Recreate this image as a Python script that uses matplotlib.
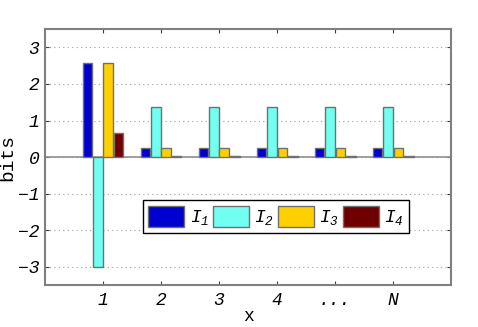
import numpy as np
import matplotlib
matplotlib.use("Agg")
from matplotlib import pyplot as plt

# values
groups = ["1", "2", "3", "4", "...", "N"]
I1 = [2.58, 0.26, 0.26, 0.26, 0.26, 0.26]
I2 = [-3.0, 1.38, 1.38, 1.38, 1.38, 1.38]
I3 = [2.58, 0.26, 0.26, 0.26, 0.26, 0.26]
I4 = [0.65, 0.04, 0.04, 0.04, 0.04, 0.04]
labels = [r"$I_1$", r"$I_2$", r"$I_3$", r"$I_4$"]
colors = ["#0000d0", "#70fff0", "#ffd000", "#700000"]

plt.rcParams["font.family"] = "Liberation Mono"
plt.rcParams["mathtext.fontset"] = "custom"
plt.rcParams["mathtext.it"] = "Liberation Mono:italic"
plt.rcParams["mathtext.rm"] = "Liberation Mono:italic"

fig, ax = plt.subplots(figsize=(4.78, 3.27), dpi=100)
fig.subplots_adjust(left=0.094, right=0.944, top=0.911, bottom=0.128)

x = np.arange(1, len(groups) + 1)
w = 0.165
step = 0.18
for i, vals in enumerate([I1, I2, I3, I4]):
    ax.bar(x + (i - 1.5) * step, vals, width=w, color=colors[i],
           edgecolor="#707070", linewidth=1.0, label=labels[i], zorder=3)

ax.axhline(0, color="#909090", lw=1.2, zorder=2)
ax.set_xlim(0, 7)
ax.set_ylim(-3.5, 3.5)
ax.set_xticks(x)
ax.set_xticklabels(groups, fontstyle="italic", fontsize=13)
ax.set_yticks([-3, -2, -1, 0, 1, 2, 3])
ax.set_yticklabels(["\u22123", "\u22122", "\u22121", "0", "1", "2", "3"],
                   fontstyle="italic", fontsize=13)
ax.yaxis.grid(True, ls=(0, (1, 3)), color="#a0a0a0", lw=0.8, zorder=0)
ax.tick_params(direction="in", length=3, top=True, right=True,
               color="#404040")
ax.tick_params(axis="x", pad=5)
ax.tick_params(axis="y", pad=4)
for s in ax.spines.values():
    s.set_color("#808080")
    s.set_linewidth(1.5)

ax.set_xlabel("x", fontsize=13, labelpad=-1)
ax.set_ylabel("bits", fontsize=14)
ax.yaxis.set_label_coords(-0.071, 0.5)

leg = ax.legend(ncol=4, loc="upper left", bbox_to_anchor=(0.241, 0.332),
                borderaxespad=0, fontsize=13, handlelength=2.0,
                handleheight=1.45, columnspacing=0.2, handletextpad=0.3,
                fancybox=False, framealpha=1, edgecolor="black",
                borderpad=0.3)
leg.get_frame().set_linewidth(1.0)

fig.savefig("out.png", dpi=100)
